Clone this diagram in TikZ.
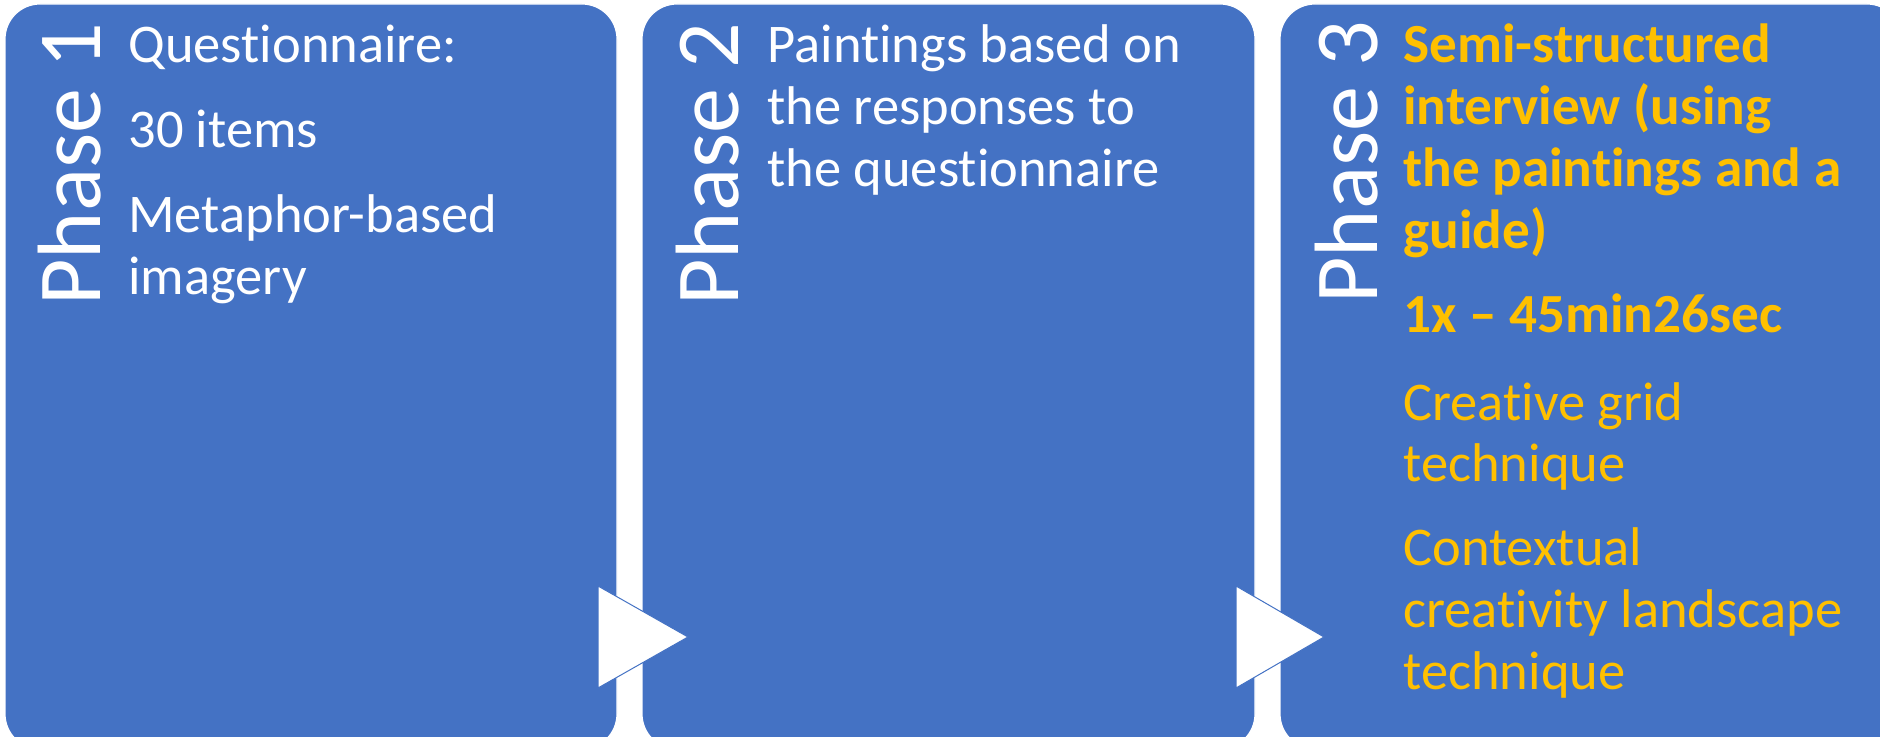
\documentclass[tikz,border=0pt]{standalone}
\usepackage{fontspec}
\setmainfont{Carlito}[Ligatures={TeX,NoCommon}]
\definecolor{boxblue}{HTML}{4472C4}
\definecolor{textgold}{HTML}{FFC000}

\begin{document}
\begin{tikzpicture}[x=0.5pt,y=-0.5pt,
                phase box/.style={fill=boxblue,draw=white,line width=0.6pt,rounded corners=17.5pt},
                phase label/.style={rotate=90,anchor=base west,inner sep=0,text=white,font=\fontsize{45}{52}\selectfont},
                item/.style={anchor=base west,inner sep=0,align=left,text=white,font=\fontsize{27.25}{31}\selectfont},
                gold item/.style={item,text=textgold},
                bold item/.style={gold item,font=\fontsize{27.6}{31}\selectfont\bfseries},
                step arrow/.style={fill=white,draw=boxblue,line width=0.5pt}]
                \useasboundingbox (0,0) rectangle (1880,737);
                \clip (0,0) rectangle (1880,737);

                % the three phases
                \path[phase box] (5,4) rectangle (617,749);
                \path[phase box] (642,4) rectangle (1255,749);
                \path[phase box] (1280,4) rectangle (1902,749);

                % arrows between them
                \path[step arrow] (598,586) -- (688,637) -- (598,688) -- cycle;
                \path[step arrow] (1236,586) -- (1324,637) -- (1236,688) -- cycle;

                \node[phase label] (ph1) at (100,306) {Phase 1};
                \node[phase label] (ph2) at (738,306) {Phase 2};
                \node[phase label] (ph3) at (1377,304) {Phase 3};

                % multi-line nodes sit on the baseline of their last line
                \node[item] (q1) at (128,63) {Questionnaire:};
                \node[item] (q2) at (128,148) {30 items};
                \node[item] (q3) at (128,295) {Metaphor-based\\imagery};

                \node[item] (pt) at (767,187) {Paintings based on\\the responses to\\the questionnaire};

                \node[bold item] (iv) at (1403,249) {Semi-structured\\interview (using\\the paintings and a\\guide)};
                \node[bold item] (du) at (1403,333) {1x – 45min26sec};
                \node[gold item] (cg) at (1403,482) {Creative grid\\technique};
                \node[gold item] (cl) at (1403,689) {Contextual\\creativity landscape\\technique};
\end{tikzpicture}
\end{document}
